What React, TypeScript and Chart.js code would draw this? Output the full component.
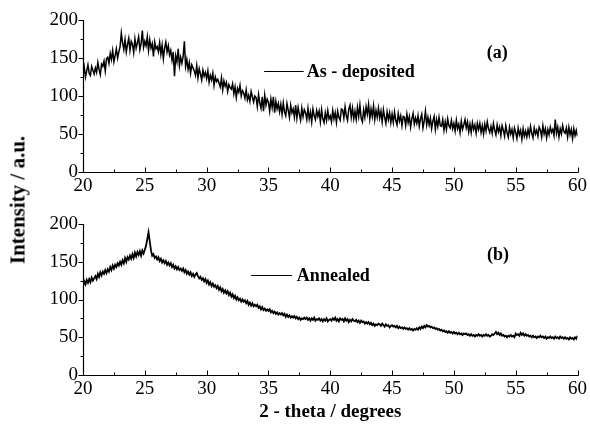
import React, { useEffect, useRef } from "react";
import { Chart, registerables } from "chart.js";

Chart.register(...registerables);

// 2-theta grid: 20.0 .. 60.0 in 0.1 degree steps
const thetaStart = 20;
const thetaStep = 0.1;

// (a) As-deposited intensity, one row per degree (x.0 .. x.9)
const asDeposited: number[] = [
  128, 138, 125, 133, 141, 130, 127, 139, 134, 129,
  137, 131, 144, 135, 128, 142, 139, 146, 133, 149,
  151, 143, 156, 148, 160, 145, 153, 162, 150, 158,
  165, 183, 170, 161, 174, 158, 168, 176, 160, 172,
  168, 157, 175, 163, 170, 178, 161, 169, 186, 164,
  172, 166, 178, 160, 174, 163, 169, 152, 171, 162,
  165, 158, 170, 155, 167, 149, 163, 171, 158, 166,
  154, 160, 147, 158, 126, 153, 145, 162, 140, 151,
  143, 152, 172, 139, 148, 135, 144, 130, 141, 137,
  133, 127, 140, 124, 136, 129, 121, 134, 126, 131,
  123, 133, 118, 127, 121, 130, 114, 125, 119, 122,
  117, 112, 124, 108, 120, 113, 118, 106, 115, 111,
  109, 116, 103, 112, 98, 110, 105, 114, 100, 107,
  104, 97, 108, 95, 101, 93, 106, 99, 92, 100,
  98, 86, 102, 91, 84, 99, 80, 101, 88, 96,
  92, 80, 96, 85, 99, 78, 93, 83, 90, 79,
  89, 76, 91, 79, 74, 90, 81, 72, 88, 78,
  83, 72, 88, 71, 85, 76, 68, 84, 73, 82,
  78, 69, 84, 70, 79, 66, 83, 74, 69, 81,
  73, 80, 66, 82, 70, 65, 78, 68, 81, 70,
  74, 66, 81, 70, 78, 65, 80, 72, 68, 83,
  82, 71, 86, 74, 68, 83, 88, 72, 84, 70,
  80, 69, 85, 73, 88, 71, 66, 82, 72, 86,
  76, 89, 70, 83, 73, 87, 69, 81, 72, 84,
  71, 80, 66, 82, 72, 64, 79, 69, 78, 65,
  76, 65, 79, 68, 62, 77, 67, 74, 61, 73,
  72, 61, 76, 65, 73, 59, 70, 77, 63, 71,
  64, 74, 60, 70, 76, 58, 67, 80, 62, 72,
  62, 71, 57, 67, 73, 56, 69, 60, 72, 61,
  60, 69, 55, 66, 56, 70, 61, 58, 68, 57,
  64, 54, 68, 57, 63, 52, 67, 56, 62, 69,
  58, 66, 53, 63, 52, 65, 56, 62, 51, 64,
  56, 64, 52, 61, 50, 63, 54, 66, 57, 52,
  60, 51, 64, 55, 49, 62, 53, 59, 48, 61,
  55, 47, 61, 52, 46, 59, 50, 56, 45, 58,
  52, 44, 58, 49, 55, 43, 57, 47, 54, 46,
  56, 48, 60, 51, 45, 58, 50, 55, 47, 59,
  55, 46, 61, 50, 57, 45, 56, 49, 59, 52,
  56, 48, 69, 51, 59, 46, 57, 50, 61, 53,
  51, 58, 46, 59, 49, 56, 44, 57, 48, 55,
  47,
];

// (b) Annealed intensity, one row per degree (x.0 .. x.9)
const annealed: number[] = [
  118, 124, 120, 126, 122, 127, 123, 129, 125, 128,
  131, 127, 134, 130, 136, 132, 137, 134, 139, 135,
  140, 137, 143, 139, 145, 141, 146, 143, 148, 145,
  150, 146, 152, 148, 155, 150, 156, 153, 158, 154,
  160, 155, 162, 157, 163, 159, 164, 158, 165, 161,
  166, 171, 180, 189, 177, 165, 158, 160, 155, 157,
  153, 156, 151, 154, 149, 152, 148, 151, 146, 149,
  145, 148, 143, 146, 141, 144, 140, 143, 139, 141,
  138, 141, 136, 139, 134, 137, 133, 136, 131, 134,
  130, 133, 135, 131, 128, 130, 126, 128, 124, 127,
  122, 125, 120, 123, 118, 121, 117, 119, 115, 118,
  113, 116, 111, 114, 109, 112, 108, 111, 106, 109,
  104, 107, 102, 105, 100, 103, 99, 101, 97, 100,
  97, 99, 95, 98, 93, 96, 92, 95, 91, 93,
  91, 93, 89, 91, 87, 90, 86, 88, 85, 87,
  85, 87, 83, 85, 82, 84, 81, 83, 80, 82,
  80, 82, 79, 81, 77, 80, 77, 79, 76, 78,
  76, 78, 75, 77, 74, 76, 73, 75, 74, 76,
  74, 76, 73, 75, 72, 75, 73, 76, 72, 74,
  73, 75, 72, 74, 71, 74, 72, 75, 71, 73,
  74, 72, 75, 73, 76, 72, 74, 71, 75, 73,
  74, 71, 75, 72, 74, 70, 73, 71, 74, 72,
  71, 73, 70, 72, 69, 72, 70, 71, 68, 70,
  68, 70, 67, 69, 66, 68, 65, 67, 66, 68,
  67, 65, 68, 66, 64, 67, 65, 66, 63, 65,
  66, 64, 65, 63, 65, 62, 64, 62, 63, 61,
  63, 61, 62, 60, 62, 60, 61, 59, 61, 60,
  62, 60, 63, 61, 64, 62, 65, 63, 66, 64,
  65, 63, 64, 62, 63, 61, 62, 60, 61, 59,
  60, 58, 59, 57, 58, 56, 58, 56, 57, 55,
  57, 55, 56, 54, 56, 54, 55, 53, 55, 54,
  55, 53, 54, 52, 54, 52, 53, 51, 53, 52,
  54, 52, 53, 51, 53, 52, 54, 52, 53, 51,
  52, 54, 53, 55, 57, 54, 56, 53, 55, 52,
  53, 51, 52, 50, 52, 51, 53, 51, 52, 50,
  55, 53, 54, 52, 56, 53, 55, 52, 54, 52,
  53, 51, 52, 50, 52, 50, 51, 49, 51, 50,
  52, 50, 51, 49, 51, 48, 50, 49, 51, 49,
  50, 48, 51, 49, 50, 48, 51, 49, 50, 48,
  50, 48, 49, 47, 50, 48, 49, 47, 50, 48,
  52,
];

const xMajorTicks = [20, 25, 30, 35, 40, 45, 50, 55, 60];
const xMinorTicks = [22.5, 27.5, 32.5, 37.5, 42.5, 47.5, 52.5, 57.5];
const yMajorTicks = [0, 50, 100, 150, 200];
const yMinorTicks = [25, 75, 125, 175];

const xTitle = "2 - theta / degrees";
const yTitle = "Intensity / a.u.";

const SERIF = '"Liberation Serif", "Times New Roman", serif';

type Note = {
  label: string;
  tag: string;
  lineFrom: number;
  lineTo: number;
  lineY: number;
  textX: number;
  textY: number;
  tagX: number;
  tagY: number;
};

const axesPlugin = {
  id: "xrdAxes",
  afterDraw(chart: any) {
    const { ctx, chartArea, scales } = chart;
    const xs = scales.x;
    const ys = scales.y;
    ctx.save();
    ctx.strokeStyle = "#000";
    ctx.lineWidth = 1.2;
    const left = Math.round(chartArea.left) + 0.5;
    const bottom = Math.round(chartArea.bottom) + 0.5;
    ctx.beginPath();
    ctx.moveTo(left, Math.round(chartArea.top));
    ctx.lineTo(left, bottom);
    ctx.lineTo(Math.round(chartArea.right) + 0.5, bottom);
    ctx.stroke();
    ctx.lineWidth = 1;
    ctx.beginPath();
    for (const v of xMajorTicks) {
      const px = Math.round(xs.getPixelForValue(v)) + 0.5;
      ctx.moveTo(px, bottom);
      ctx.lineTo(px, bottom - 5);
    }
    for (const v of xMinorTicks) {
      const px = Math.round(xs.getPixelForValue(v)) + 0.5;
      ctx.moveTo(px, bottom);
      ctx.lineTo(px, bottom - 3);
    }
    for (const v of yMajorTicks) {
      const py = Math.round(ys.getPixelForValue(v)) + 0.5;
      ctx.moveTo(left, py);
      ctx.lineTo(left - 5, py);
    }
    for (const v of yMinorTicks) {
      const py = Math.round(ys.getPixelForValue(v)) + 0.5;
      ctx.moveTo(left, py);
      ctx.lineTo(left - 3, py);
    }
    ctx.stroke();

    const note: Note | undefined = chart.options.plugins?.xrdAxes?.note;
    if (note) {
      ctx.lineWidth = 1.2;
      ctx.beginPath();
      const ly = Math.round(ys.getPixelForValue(note.lineY)) + 0.5;
      ctx.moveTo(xs.getPixelForValue(note.lineFrom), ly);
      ctx.lineTo(xs.getPixelForValue(note.lineTo), ly);
      ctx.stroke();
      ctx.fillStyle = "#000";
      ctx.font = `bold 18px ${SERIF}`;
      ctx.textBaseline = "middle";
      ctx.textAlign = "left";
      ctx.fillText(note.label, xs.getPixelForValue(note.textX), ys.getPixelForValue(note.textY));
      ctx.textAlign = "center";
      ctx.fillText(note.tag, xs.getPixelForValue(note.tagX), ys.getPixelForValue(note.tagY));
    }
    ctx.restore();
  },
};

function buildConfig(
  values: number[],
  opts: { padTop: number; axisHeight: number; note: Note; showTitle: boolean; lineWidth: number }
) {
  const points = values.map((v, i) => ({ x: thetaStart + i * thetaStep, y: v }));
  return {
    type: "line" as const,
    data: {
      datasets: [
        {
          data: points,
          borderColor: "#000",
          borderWidth: opts.lineWidth,
          pointRadius: 0,
          tension: 0,
          fill: false,
        },
      ],
    },
    options: {
      animation: false as const,
      responsive: false,
      events: [],
      layout: { padding: { left: 0, right: 10, top: opts.padTop, bottom: 0 } },
      plugins: {
        legend: { display: false },
        tooltip: { enabled: false },
        xrdAxes: { note: opts.note },
      },
      scales: {
        x: {
          type: "linear" as const,
          min: 20,
          max: 60,
          grid: { display: false, drawTicks: false },
          border: { display: false },
          afterBuildTicks: (s: any) => {
            s.ticks = xMajorTicks.map((v) => ({ value: v }));
          },
          afterFit: (s: any) => {
            s.height = opts.axisHeight;
          },
          ticks: {
            autoSkip: false,
            maxRotation: 0,
            padding: 3,
            color: "#000",
            font: { family: SERIF, size: 19 },
          },
          title: {
            display: opts.showTitle,
            text: xTitle,
            color: "#000",
            font: { family: SERIF, size: 19, weight: "bold" as const },
            padding: { top: 0, bottom: 3 },
          },
        },
        y: {
          min: 0,
          max: 200,
          grid: { display: false, drawTicks: false },
          border: { display: false },
          afterBuildTicks: (s: any) => {
            s.ticks = yMajorTicks.map((v) => ({ value: v }));
          },
          afterFit: (s: any) => {
            s.width = 83;
          },
          ticks: {
            padding: 5,
            color: "#000",
            font: { family: SERIF, size: 19 },
          },
        },
      },
    },
    plugins: [axesPlugin],
  };
}

export default function App() {
  const refA = useRef<HTMLCanvasElement>(null);
  const refB = useRef<HTMLCanvasElement>(null);

  useEffect(() => {
    const chartA = new Chart(
      refA.current as HTMLCanvasElement,
      buildConfig(asDeposited, {
        padTop: 20,
        axisHeight: 28,
        showTitle: false,
        lineWidth: 1.5,
        note: {
          label: "As - deposited",
          tag: "(a)",
          lineFrom: 34.65,
          lineTo: 37.85,
          lineY: 133.5,
          textX: 38.1,
          textY: 131,
          tagX: 53.5,
          tagY: 156,
        },
      }) as any
    );
    const chartB = new Chart(
      refB.current as HTMLCanvasElement,
      buildConfig(annealed, {
        padTop: 24,
        axisHeight: 51,
        showTitle: true,
        lineWidth: 1.8,
        note: {
          label: "Annealed",
          tag: "(b)",
          lineFrom: 33.6,
          lineTo: 36.9,
          lineY: 132.7,
          textX: 37.3,
          textY: 131,
          tagX: 53.56,
          tagY: 159,
        },
      }) as any
    );
    return () => {
      chartA.destroy();
      chartB.destroy();
    };
  }, []);

  return (
    <div style={{ position: "absolute", left: 0, top: 0, width: 590, height: 426, background: "#fff", overflow: "hidden" }}>
      <canvas ref={refA} width={590} height={200} style={{ position: "absolute", left: 0, top: 0 }} />
      <canvas ref={refB} width={590} height={226} style={{ position: "absolute", left: 0, top: 200 }} />
      <div
        style={{
          position: "absolute",
          left: 18,
          top: 200,
          transform: "translate(-50%, -50%) rotate(-90deg)",
          font: `bold 21px ${SERIF}`,
          whiteSpace: "nowrap",
          color: "#000",
        }}
      >
        {yTitle}
      </div>
    </div>
  );
}
